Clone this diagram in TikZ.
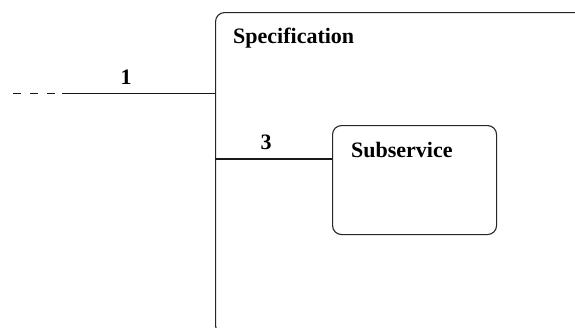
\documentclass[tikz,border=0pt]{standalone}
\usepackage{fontspec}
\setmainfont{Liberation Serif}
\begin{document}
\begin{tikzpicture}[x=1pt,y=-1pt,
  box/.style={draw=black!85,line width=1.1pt,rounded corners=9pt,inner sep=0pt},
  conn/.style={draw=black!90,line width=1.1pt},
  lbl/.style={font=\fontsize{22}{26}\selectfont\bfseries,inner sep=0pt,anchor=base west}]
\useasboundingbox (0,0) rectangle (575,327);
\clip (0,0) rectangle (575,327);
\node[box,minimum width=380pt,minimum height=322pt,anchor=north west] (spec) at (215,12) {};
\node[lbl] (spectxt) at (233,43.5) {Specification};
\node[box,minimum width=164pt,minimum height=109pt,anchor=north west] (sub) at (332,125) {};
\node[lbl] (subtxt) at (351,157) {Subservice};
\coordinate (d0) at (13,93.5);
\coordinate (d1) at (62,93.5);
\draw[conn,dash pattern=on 8pt off 9pt] (d0) -- (d1);
\draw[conn] (d1) -- (spec.west |- d1);
\node[lbl,anchor=base] (l1) at (126,84) {1};
\coordinate (c3) at (0,159);
\draw[conn] (spec.west |- c3) -- (sub.west |- c3);
\node[lbl,anchor=base] (l3) at (266,149) {3};
\end{tikzpicture}
\end{document}
